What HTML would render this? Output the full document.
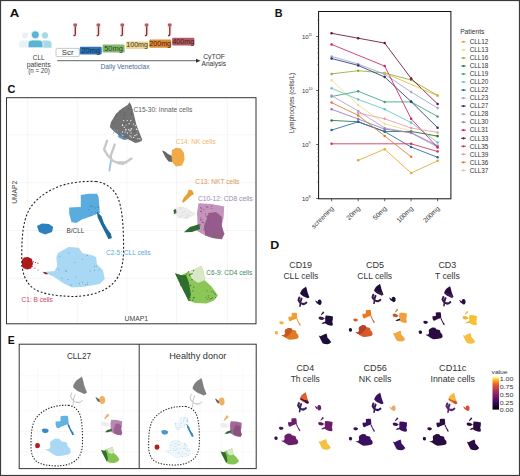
<!DOCTYPE html><html><head><meta charset="utf-8"><style>
html,body{margin:0;padding:0;background:#fff;width:520px;height:476px;overflow:hidden}
svg{display:block}
text{font-family:"Liberation Sans",sans-serif}
</style></head><body>
<svg width="520" height="476" viewBox="0 0 520 476">
<rect x="0" y="0" width="520" height="476" fill="#fff"/>

<defs>
<path id="innate" d="M129.5,102.1 L131.6,105.9 L133.7,113.5 L136.3,124.4 L139.7,133.3 L142.4,140.0 L139.0,142.2 L135.3,143.1 L128.6,139.5 L120.2,136.2 L113.5,131.1 L109.8,126.9 L111.0,121.9 L116.0,113.8 L121.9,108.4 L127.9,104.7Z"/>
<path id="nkgray" d="M162.0,150.5 L165.0,151.5 L168.0,154.0 L172.0,156.0 L172.5,162.0 L168.5,161.5 L165.5,157.5 L163.5,153.5Z"/>
<path id="nk" d="M172.0,150.0 L176.0,147.8 L181.0,148.5 L184.0,153.0 L184.5,160.0 L182.0,165.5 L176.0,166.5 L172.0,162.0 L171.5,155.0Z"/>
<path id="cd8" d="M198.5,203.3 L211.6,203.9 L224.2,206.4 L223.6,217.8 L221.7,225.4 L224.2,234.2 L221.7,239.2 L212.9,238.0 L205.3,235.4 L196.5,230.4 L197.5,222.8 L197.0,212.7Z"/>
<path id="cd8dark" d="M209.0,213.0 L216.0,212.0 L222.0,217.0 L221.7,225.4 L224.2,234.2 L221.7,239.2 L212.9,238.0 L205.3,235.4 L204.0,226.0Z"/>
<path id="cd8green" d="M183.9,232.3 L190.0,227.0 L199.6,224.1 L200.0,229.0 L192.0,232.0Z"/>
<path id="nktwhite" d="M174.5,208.5 L180.0,206.5 L187.7,208.5 L196.0,214.0 L187.7,219.0 L179.0,218.0 L174.5,214.0Z"/>
<path id="nkt" d="M182.0,201.4 L183.9,197.6 L187.0,194.1 L188.9,189.4 L192.1,190.3 L194.0,194.1 L190.8,196.1 L186.6,199.9 L183.2,202.7Z"/>
<path id="cd4" d="M175.0,273.3 L181.3,275.2 L188.9,271.4 L195.2,268.9 L201.5,265.7 L204.0,272.7 L204.7,280.2 L211.6,286.5 L217.9,295.4 L214.1,300.4 L206.6,303.5 L195.2,302.9 L188.3,300.4 L184.5,292.8 L178.8,281.5Z"/>
<path id="cd4dark" d="M175.0,273.3 L181.3,275.2 L186.0,275.0 L189.0,283.0 L191.0,295.0 L188.3,300.4 L184.5,292.8 L178.8,281.5Z"/>
<path id="cd4pale" d="M188.9,271.4 L195.2,268.9 L201.5,265.7 L204.0,272.7 L204.7,280.2 L198.0,283.0 L192.0,279.0Z"/>
<path id="cllup" d="M80.8,194.9 L88.9,193.8 L96.9,193.8 L98.5,196.5 L99.2,204.6 L99.9,212.7 L91.2,216.2 L81.9,219.6 L76.2,223.1 L71.5,221.9 L69.2,213.8 L69.2,207.4 L80.8,206.9 L80.8,200.0Z"/>
<path id="clltail" d="M96.9,211.5 L101.5,216.2 L103.9,223.1 L107.3,228.9 L110.8,233.5 L111.9,238.1 L108.5,239.2 L106.2,234.6 L101.5,225.4 L97.6,217.3Z"/>
<path id="cllsmall" d="M37.0,226.0 L42.0,223.5 L49.0,224.0 L53.2,227.0 L52.0,232.0 L45.0,234.4 L39.0,232.0Z"/>
<path id="cllbig" d="M58.1,253.0 L68.4,246.9 L78.8,247.8 L82.3,253.0 L92.7,255.6 L96.1,257.3 L97.0,264.2 L103.0,270.3 L104.8,278.9 L99.6,284.1 L84.0,286.7 L71.9,287.6 L63.3,283.3 L54.6,277.2 L47.7,273.7 L44.2,272.0 L54.6,271.1 L57.2,266.0 L56.3,257.3Z"/>
<path id="bcell" d="M22.0,260.0 L24.0,257.5 L28.0,257.0 L32.0,259.0 L33.0,264.0 L31.0,268.5 L27.0,269.5 L23.0,268.0 L21.8,264.0Z"/>
<path id="cllbigleft" d="M58.1,253.0 L68.4,246.9 L78.8,247.8 L82.3,253.0 L80.0,262.0 L70.0,272.0 L60.0,280.0 L54.6,277.2 L47.7,273.7 L44.2,272.0 L54.6,271.1 L57.2,266.0 L56.3,257.3Z"/>
<path id="innatelow" d="M112.0,128.0 L122.0,133.0 L135.0,142.9 L142.1,140.4 L138.0,132.0 L126.0,130.0 L114.0,124.0Z"/>
<path id="ring" d="M107,140.8 L104.1,149.4 L107.5,155.2 L110.9,158.6 L113.3,161 L118,163 L122.9,163.8 L127.7,161 L131.5,158.6 M114.7,144.6 L110.9,155.2 L110.9,158.6 M117,162.5 L126,162.5"/>
<path id="ringblue" d="M110.9,161 L109.4,170.6"/>
<path id="dash" d="M95.8,181.5 C106,182.5 114,189 118,198 C122,208 123.3,224 123.5,240 C124,258 123,270 116,280 C106,293 88,296 73.8,296.5 C55,296 42,294 33.5,288.5 C25,282 21.5,272 21.8,258 C21.6,240 22.5,222 29,210 C35,199 47,191 60,186 C72,182 84,181 95.8,181.5Z"/>
</defs>
<text x="9.75" y="16.7" font-size="11.8" fill="#111" textLength="9.50" lengthAdjust="spacingAndGlyphs" font-weight="bold">A</text>
<circle cx="25.1" cy="35.4" r="3" fill="#e6f2f4"/><path d="M19,47.5 L19,44 Q19,40.5 22.5,40.5 L28,40.5 Q31,40.5 31,44 L31,47.5Z" fill="#e6f2f4"/>
<circle cx="45" cy="35.4" r="3.1" fill="#a8d8e2"/><path d="M40,47.7 L40,44 Q40,40.5 43.5,40.5 L48,40.5 Q51.6,40.5 51.6,44 L51.6,47.7Z" fill="#a8d8e2"/>
<circle cx="35.3" cy="34.8" r="4" fill="#5ab4d4" stroke="#fff" stroke-width="0.7"/><path d="M28,47.8 L28,44 Q28,40 32.5,40 L38.5,40 Q43,40 43,44 L43,47.8Z" fill="#5ab4d4" stroke="#fff" stroke-width="0.8"/>
<text x="32.85" y="60" font-size="6.3" fill="#3a3a3a" textLength="11.70" lengthAdjust="spacingAndGlyphs">CLL</text>
<text x="26.65" y="66.7" font-size="6.3" fill="#3a3a3a" textLength="24.00" lengthAdjust="spacingAndGlyphs">patients</text>
<text x="28.15" y="72.8" font-size="6.3" fill="#3a3a3a" textLength="21.70" lengthAdjust="spacingAndGlyphs">(n = 20)</text>
<rect x="56" y="48.4" width="23.3" height="8.2" rx="1.2" fill="#ffffff" stroke="#9aa" stroke-width="0.6"/>
<text x="61.80" y="54.8" font-size="6.6" fill="#333" textLength="11.70" lengthAdjust="spacingAndGlyphs">Scr</text>
<rect x="79.8" y="46.7" width="21.9" height="7.8" rx="1.2" fill="#2e72b8"/>
<text x="81.40" y="52.7" font-size="6.6" fill="#1c2f4a" textLength="18.70" lengthAdjust="spacingAndGlyphs">20mg</text>
<rect x="102.5" y="44.6" width="22.1" height="8" rx="1.2" fill="#86b86e"/>
<text x="104.20" y="50.8" font-size="6.6" fill="#234020" textLength="18.70" lengthAdjust="spacingAndGlyphs">50mg</text>
<rect x="125.9" y="41.5" width="22.4" height="7.6" rx="1.2" fill="#eed590"/>
<text x="126.25" y="47.3" font-size="6.6" fill="#3a3520" textLength="21.70" lengthAdjust="spacingAndGlyphs">100mg</text>
<rect x="149.2" y="39.6" width="22" height="8.1" rx="1.2" fill="#dd8a38"/>
<text x="149.35" y="45.9" font-size="6.6" fill="#3a2008" textLength="21.70" lengthAdjust="spacingAndGlyphs">200mg</text>
<rect x="172.1" y="37.7" width="22.3" height="7.7" rx="1.2" fill="#b05a62"/>
<text x="172.40" y="43.6" font-size="6.6" fill="#4a1a20" textLength="21.70" lengthAdjust="spacingAndGlyphs">400mg</text>
<rect x="72.89999999999999" y="23" width="4.8" height="13.5" rx="1" fill="#fbeeee"/>
<rect x="73.39999999999999" y="23.6" width="3.6" height="3" rx="0.8" fill="#b85a5a"/>
<path d="M75.3,26.4 L75.3,34.1 Q75.3,35.9 73.5,35.5" fill="none" stroke="#7a3232" stroke-width="1.35"/>
<rect x="96.1" y="23" width="4.8" height="13.5" rx="1" fill="#fbeeee"/>
<rect x="96.6" y="23.6" width="3.6" height="3" rx="0.8" fill="#b85a5a"/>
<path d="M98.5,26.4 L98.5,34.1 Q98.5,35.9 96.7,35.5" fill="none" stroke="#7a3232" stroke-width="1.35"/>
<rect x="120.0" y="23" width="4.8" height="13.5" rx="1" fill="#fbeeee"/>
<rect x="120.5" y="23.6" width="3.6" height="3" rx="0.8" fill="#b85a5a"/>
<path d="M122.4,26.4 L122.4,34.1 Q122.4,35.9 120.60000000000001,35.5" fill="none" stroke="#7a3232" stroke-width="1.35"/>
<rect x="144.29999999999998" y="23" width="4.8" height="13.5" rx="1" fill="#fbeeee"/>
<rect x="144.79999999999998" y="23.6" width="3.6" height="3" rx="0.8" fill="#b85a5a"/>
<path d="M146.7,26.4 L146.7,34.1 Q146.7,35.9 144.89999999999998,35.5" fill="none" stroke="#7a3232" stroke-width="1.35"/>
<rect x="167.4" y="23" width="4.8" height="13.5" rx="1" fill="#fbeeee"/>
<rect x="167.9" y="23.6" width="3.6" height="3" rx="0.8" fill="#b85a5a"/>
<path d="M169.8,26.4 L169.8,34.1 Q169.8,35.9 168.0,35.5" fill="none" stroke="#7a3232" stroke-width="1.35"/>
<line x1="57.2" y1="60.7" x2="198" y2="60.7" stroke="#555" stroke-width="0.9"/>
<path d="M196,58.7 L200.5,60.7 L196,62.7Z" fill="#333"/>
<text x="100.45" y="69.1" font-size="6.8" fill="#4a6a9a" textLength="49.10" lengthAdjust="spacingAndGlyphs">Daily Venetoclax</text>
<text x="203.15" y="58.8" font-size="6.8" fill="#333" textLength="21.80" lengthAdjust="spacingAndGlyphs">CyTOF</text>
<text x="201.55" y="65.9" font-size="6.8" fill="#333" textLength="24.40" lengthAdjust="spacingAndGlyphs">Analysis</text>
<text x="274.65" y="16.9" font-size="11.8" fill="#111" textLength="7.80" lengthAdjust="spacingAndGlyphs" font-weight="bold">B</text>
<rect x="318.6" y="11.5" width="132.29999999999995" height="187.3" fill="none" stroke="#111" stroke-width="1"/>
<line x1="316.1" y1="36.5" x2="318.6" y2="36.5" stroke="#222" stroke-width="0.7"/>
<text x="308.6" y="38.6" font-size="6" fill="#333" text-anchor="end">10</text><text x="308.40000000000003" y="35.9" font-size="3.6" fill="#333">11</text>
<line x1="316.1" y1="90.5" x2="318.6" y2="90.5" stroke="#222" stroke-width="0.7"/>
<text x="308.6" y="92.6" font-size="6" fill="#333" text-anchor="end">10</text><text x="308.40000000000003" y="89.9" font-size="3.6" fill="#333">10</text>
<line x1="316.1" y1="144.5" x2="318.6" y2="144.5" stroke="#222" stroke-width="0.7"/>
<text x="308.6" y="146.6" font-size="6" fill="#333" text-anchor="end">10</text><text x="308.40000000000003" y="143.9" font-size="3.6" fill="#333">9</text>
<line x1="316.1" y1="198.5" x2="318.6" y2="198.5" stroke="#222" stroke-width="0.7"/>
<text x="308.6" y="200.6" font-size="6" fill="#333" text-anchor="end">10</text><text x="308.40000000000003" y="197.9" font-size="3.6" fill="#333">8</text>
<line x1="317.1" y1="182.2" x2="318.6" y2="182.2" stroke="#444" stroke-width="0.4"/>
<line x1="317.1" y1="172.7" x2="318.6" y2="172.7" stroke="#444" stroke-width="0.4"/>
<line x1="317.1" y1="166.0" x2="318.6" y2="166.0" stroke="#444" stroke-width="0.4"/>
<line x1="317.1" y1="160.8" x2="318.6" y2="160.8" stroke="#444" stroke-width="0.4"/>
<line x1="317.1" y1="156.5" x2="318.6" y2="156.5" stroke="#444" stroke-width="0.4"/>
<line x1="317.1" y1="152.9" x2="318.6" y2="152.9" stroke="#444" stroke-width="0.4"/>
<line x1="317.1" y1="149.7" x2="318.6" y2="149.7" stroke="#444" stroke-width="0.4"/>
<line x1="317.1" y1="147.0" x2="318.6" y2="147.0" stroke="#444" stroke-width="0.4"/>
<line x1="317.1" y1="128.2" x2="318.6" y2="128.2" stroke="#444" stroke-width="0.4"/>
<line x1="317.1" y1="118.7" x2="318.6" y2="118.7" stroke="#444" stroke-width="0.4"/>
<line x1="317.1" y1="112.0" x2="318.6" y2="112.0" stroke="#444" stroke-width="0.4"/>
<line x1="317.1" y1="106.8" x2="318.6" y2="106.8" stroke="#444" stroke-width="0.4"/>
<line x1="317.1" y1="102.5" x2="318.6" y2="102.5" stroke="#444" stroke-width="0.4"/>
<line x1="317.1" y1="98.9" x2="318.6" y2="98.9" stroke="#444" stroke-width="0.4"/>
<line x1="317.1" y1="95.7" x2="318.6" y2="95.7" stroke="#444" stroke-width="0.4"/>
<line x1="317.1" y1="93.0" x2="318.6" y2="93.0" stroke="#444" stroke-width="0.4"/>
<line x1="317.1" y1="74.2" x2="318.6" y2="74.2" stroke="#444" stroke-width="0.4"/>
<line x1="317.1" y1="64.7" x2="318.6" y2="64.7" stroke="#444" stroke-width="0.4"/>
<line x1="317.1" y1="58.0" x2="318.6" y2="58.0" stroke="#444" stroke-width="0.4"/>
<line x1="317.1" y1="52.8" x2="318.6" y2="52.8" stroke="#444" stroke-width="0.4"/>
<line x1="317.1" y1="48.5" x2="318.6" y2="48.5" stroke="#444" stroke-width="0.4"/>
<line x1="317.1" y1="44.9" x2="318.6" y2="44.9" stroke="#444" stroke-width="0.4"/>
<line x1="317.1" y1="41.7" x2="318.6" y2="41.7" stroke="#444" stroke-width="0.4"/>
<line x1="317.1" y1="39.0" x2="318.6" y2="39.0" stroke="#444" stroke-width="0.4"/>
<line x1="317.1" y1="20.2" x2="318.6" y2="20.2" stroke="#444" stroke-width="0.4"/>
<text transform="translate(294,103) rotate(-90)" font-size="6.6" fill="#333" text-anchor="middle" textLength="60" lengthAdjust="spacingAndGlyphs">Lymphocytes (cells/L)</text>
<line x1="331.6" y1="198.8" x2="331.6" y2="201.3" stroke="#222" stroke-width="0.7"/>
<text transform="translate(334.1,208.8) rotate(-45)" font-size="6.6" fill="#333" text-anchor="end">screening</text>
<line x1="358.2" y1="198.8" x2="358.2" y2="201.3" stroke="#222" stroke-width="0.7"/>
<text transform="translate(360.7,208.8) rotate(-45)" font-size="6.6" fill="#333" text-anchor="end">20mg</text>
<line x1="384.7" y1="198.8" x2="384.7" y2="201.3" stroke="#222" stroke-width="0.7"/>
<text transform="translate(387.2,208.8) rotate(-45)" font-size="6.6" fill="#333" text-anchor="end">50mg</text>
<line x1="411.1" y1="198.8" x2="411.1" y2="201.3" stroke="#222" stroke-width="0.7"/>
<text transform="translate(413.6,208.8) rotate(-45)" font-size="6.6" fill="#333" text-anchor="end">100mg</text>
<line x1="437.6" y1="198.8" x2="437.6" y2="201.3" stroke="#222" stroke-width="0.7"/>
<text transform="translate(440.1,208.8) rotate(-45)" font-size="6.6" fill="#333" text-anchor="end">200mg</text>
<path d="M358.2,160.3 L384.7,149.2 L411.1,173 L437.6,160.8" fill="none" stroke="#e3a82a" stroke-width="0.85"/>
<circle cx="358.2" cy="160.3" r="1.25" fill="#e3a82a"/>
<circle cx="384.7" cy="149.2" r="1.25" fill="#e3a82a"/>
<circle cx="411.1" cy="173" r="1.25" fill="#e3a82a"/>
<circle cx="437.6" cy="160.8" r="1.25" fill="#e3a82a"/>
<path d="M331.6,80.3 L358.2,105 L384.7,124 L411.1,131 L437.6,137" fill="none" stroke="#f2dc8c" stroke-width="0.85"/>
<circle cx="331.6" cy="80.3" r="1.25" fill="#f2dc8c"/>
<circle cx="358.2" cy="105" r="1.25" fill="#f2dc8c"/>
<circle cx="384.7" cy="124" r="1.25" fill="#f2dc8c"/>
<circle cx="411.1" cy="131" r="1.25" fill="#f2dc8c"/>
<circle cx="437.6" cy="137" r="1.25" fill="#f2dc8c"/>
<path d="M331.6,73.9 L358.2,70.7 L384.7,73 L411.1,80 L437.6,95.4" fill="none" stroke="#8fac3a" stroke-width="0.85"/>
<circle cx="331.6" cy="73.9" r="1.25" fill="#8fac3a"/>
<circle cx="358.2" cy="70.7" r="1.25" fill="#8fac3a"/>
<circle cx="384.7" cy="73" r="1.25" fill="#8fac3a"/>
<circle cx="411.1" cy="80" r="1.25" fill="#8fac3a"/>
<circle cx="437.6" cy="95.4" r="1.25" fill="#8fac3a"/>
<path d="M331.6,120.4 L358.2,121.8 L384.7,131.6 L411.1,131.5 L437.6,136" fill="none" stroke="#1f7a3e" stroke-width="0.85"/>
<circle cx="331.6" cy="120.4" r="1.25" fill="#1f7a3e"/>
<circle cx="358.2" cy="121.8" r="1.25" fill="#1f7a3e"/>
<circle cx="384.7" cy="131.6" r="1.25" fill="#1f7a3e"/>
<circle cx="411.1" cy="131.5" r="1.25" fill="#1f7a3e"/>
<circle cx="437.6" cy="136" r="1.25" fill="#1f7a3e"/>
<path d="M331.6,96.5 L358.2,91.3 L384.7,101.9 L411.1,101.9 L437.6,116.5" fill="none" stroke="#3aa37a" stroke-width="0.85"/>
<circle cx="331.6" cy="96.5" r="1.25" fill="#3aa37a"/>
<circle cx="358.2" cy="91.3" r="1.25" fill="#3aa37a"/>
<circle cx="384.7" cy="101.9" r="1.25" fill="#3aa37a"/>
<circle cx="411.1" cy="101.9" r="1.25" fill="#3aa37a"/>
<circle cx="437.6" cy="116.5" r="1.25" fill="#3aa37a"/>
<path d="M331.6,88.3 L358.2,99.4 L384.7,109.3 L411.1,122.6 L437.6,142.5" fill="none" stroke="#67c2c2" stroke-width="0.85"/>
<circle cx="331.6" cy="88.3" r="1.25" fill="#67c2c2"/>
<circle cx="358.2" cy="99.4" r="1.25" fill="#67c2c2"/>
<circle cx="384.7" cy="109.3" r="1.25" fill="#67c2c2"/>
<circle cx="411.1" cy="122.6" r="1.25" fill="#67c2c2"/>
<circle cx="437.6" cy="142.5" r="1.25" fill="#67c2c2"/>
<path d="M331.6,130.1 L358.2,121.8 L384.7,131.6 L411.1,147 L437.6,157.3" fill="none" stroke="#2567a0" stroke-width="0.85"/>
<circle cx="331.6" cy="130.1" r="1.25" fill="#2567a0"/>
<circle cx="358.2" cy="121.8" r="1.25" fill="#2567a0"/>
<circle cx="384.7" cy="131.6" r="1.25" fill="#2567a0"/>
<circle cx="411.1" cy="147" r="1.25" fill="#2567a0"/>
<circle cx="437.6" cy="157.3" r="1.25" fill="#2567a0"/>
<path d="M331.6,56.4 L358.2,64 L384.7,74.3 L411.1,92 L437.6,108" fill="none" stroke="#9aa2d4" stroke-width="0.85"/>
<circle cx="331.6" cy="56.4" r="1.25" fill="#9aa2d4"/>
<circle cx="358.2" cy="64" r="1.25" fill="#9aa2d4"/>
<circle cx="384.7" cy="74.3" r="1.25" fill="#9aa2d4"/>
<circle cx="411.1" cy="92" r="1.25" fill="#9aa2d4"/>
<circle cx="437.6" cy="108" r="1.25" fill="#9aa2d4"/>
<path d="M331.6,58.5 L358.2,65.4 L384.7,77 L411.1,101.6 L437.6,127.7" fill="none" stroke="#2a3470" stroke-width="0.85"/>
<circle cx="331.6" cy="58.5" r="1.25" fill="#2a3470"/>
<circle cx="358.2" cy="65.4" r="1.25" fill="#2a3470"/>
<circle cx="384.7" cy="77" r="1.25" fill="#2a3470"/>
<circle cx="411.1" cy="101.6" r="1.25" fill="#2a3470"/>
<circle cx="437.6" cy="127.7" r="1.25" fill="#2a3470"/>
<path d="M331.6,95.6 L358.2,111 L384.7,128 L411.1,133 L437.6,147" fill="none" stroke="#a8a0c4" stroke-width="0.85"/>
<circle cx="331.6" cy="95.6" r="1.25" fill="#a8a0c4"/>
<circle cx="358.2" cy="111" r="1.25" fill="#a8a0c4"/>
<circle cx="384.7" cy="128" r="1.25" fill="#a8a0c4"/>
<circle cx="411.1" cy="133" r="1.25" fill="#a8a0c4"/>
<circle cx="437.6" cy="147" r="1.25" fill="#a8a0c4"/>
<path d="M331.6,109.3 L358.2,119 L384.7,129.2 L411.1,132.6 L437.6,145.8" fill="none" stroke="#9a72c0" stroke-width="0.85"/>
<circle cx="331.6" cy="109.3" r="1.25" fill="#9a72c0"/>
<circle cx="358.2" cy="119" r="1.25" fill="#9a72c0"/>
<circle cx="384.7" cy="129.2" r="1.25" fill="#9a72c0"/>
<circle cx="411.1" cy="132.6" r="1.25" fill="#9a72c0"/>
<circle cx="437.6" cy="145.8" r="1.25" fill="#9a72c0"/>
<path d="M331.6,44.4 L384.7,66.1 L411.1,118.7 L437.6,147.6" fill="none" stroke="#c8246a" stroke-width="0.85"/>
<circle cx="331.6" cy="44.4" r="1.25" fill="#c8246a"/>
<circle cx="384.7" cy="66.1" r="1.25" fill="#c8246a"/>
<circle cx="411.1" cy="118.7" r="1.25" fill="#c8246a"/>
<circle cx="437.6" cy="147.6" r="1.25" fill="#c8246a"/>
<path d="M331.6,33.3 L358.2,38.2 L384.7,43.1 L411.1,78.4 L437.6,104" fill="none" stroke="#6a0f35" stroke-width="0.85"/>
<circle cx="331.6" cy="33.3" r="1.25" fill="#6a0f35"/>
<circle cx="358.2" cy="38.2" r="1.25" fill="#6a0f35"/>
<circle cx="384.7" cy="43.1" r="1.25" fill="#6a0f35"/>
<circle cx="411.1" cy="78.4" r="1.25" fill="#6a0f35"/>
<circle cx="437.6" cy="104" r="1.25" fill="#6a0f35"/>
<path d="M331.6,143.8 L411.1,143.8 L437.6,151.5" fill="none" stroke="#cc3050" stroke-width="0.85"/>
<circle cx="331.6" cy="143.8" r="1.25" fill="#cc3050"/>
<circle cx="411.1" cy="143.8" r="1.25" fill="#cc3050"/>
<circle cx="437.6" cy="151.5" r="1.25" fill="#cc3050"/>
<path d="M358.2,113 L384.7,118.8 L411.1,128 L437.6,132.4" fill="none" stroke="#e89aaa" stroke-width="0.85"/>
<circle cx="358.2" cy="113" r="1.25" fill="#e89aaa"/>
<circle cx="384.7" cy="118.8" r="1.25" fill="#e89aaa"/>
<circle cx="411.1" cy="128" r="1.25" fill="#e89aaa"/>
<circle cx="437.6" cy="132.4" r="1.25" fill="#e89aaa"/>
<path d="M331.6,102.6 L358.2,115.4 L384.7,136 L411.1,156.8" fill="none" stroke="#dc7a30" stroke-width="0.85"/>
<circle cx="331.6" cy="102.6" r="1.25" fill="#dc7a30"/>
<circle cx="358.2" cy="115.4" r="1.25" fill="#dc7a30"/>
<circle cx="384.7" cy="136" r="1.25" fill="#dc7a30"/>
<circle cx="411.1" cy="156.8" r="1.25" fill="#dc7a30"/>
<path d="M384.7,73 L437.6,95.8" fill="none" stroke="#e6b838" stroke-width="0.85"/>
<circle cx="384.7" cy="73" r="1.25" fill="#e6b838"/>
<circle cx="437.6" cy="95.8" r="1.25" fill="#e6b838"/>
<text x="460.15" y="34" font-size="6.4" fill="#333" textLength="24.20" lengthAdjust="spacingAndGlyphs">Patients</text>
<line x1="461" y1="41.9" x2="466" y2="41.9" stroke="#e3a82a" stroke-width="0.8"/><circle cx="463.5" cy="41.9" r="1.1" fill="#e3a82a"/>
<text x="469.65" y="44.1" font-size="6.3" fill="#333" textLength="18.70" lengthAdjust="spacingAndGlyphs">CLL12</text>
<line x1="461" y1="49.9" x2="466" y2="49.9" stroke="#f2dc8c" stroke-width="0.8"/><circle cx="463.5" cy="49.9" r="1.1" fill="#f2dc8c"/>
<text x="469.65" y="52.1" font-size="6.3" fill="#333" textLength="18.70" lengthAdjust="spacingAndGlyphs">CLL13</text>
<line x1="461" y1="58.0" x2="466" y2="58.0" stroke="#8fac3a" stroke-width="0.8"/><circle cx="463.5" cy="58.0" r="1.1" fill="#8fac3a"/>
<text x="469.65" y="60.2" font-size="6.3" fill="#333" textLength="18.70" lengthAdjust="spacingAndGlyphs">CLL16</text>
<line x1="461" y1="66.0" x2="466" y2="66.0" stroke="#1f7a3e" stroke-width="0.8"/><circle cx="463.5" cy="66.0" r="1.1" fill="#1f7a3e"/>
<text x="469.65" y="68.2" font-size="6.3" fill="#333" textLength="18.70" lengthAdjust="spacingAndGlyphs">CLL18</text>
<line x1="461" y1="74.0" x2="466" y2="74.0" stroke="#3aa37a" stroke-width="0.8"/><circle cx="463.5" cy="74.0" r="1.1" fill="#3aa37a"/>
<text x="469.65" y="76.2" font-size="6.3" fill="#333" textLength="18.70" lengthAdjust="spacingAndGlyphs">CLL19</text>
<line x1="461" y1="82.0" x2="466" y2="82.0" stroke="#67c2c2" stroke-width="0.8"/><circle cx="463.5" cy="82.0" r="1.1" fill="#67c2c2"/>
<text x="469.65" y="84.2" font-size="6.3" fill="#333" textLength="18.70" lengthAdjust="spacingAndGlyphs">CLL20</text>
<line x1="461" y1="90.1" x2="466" y2="90.1" stroke="#2567a0" stroke-width="0.8"/><circle cx="463.5" cy="90.1" r="1.1" fill="#2567a0"/>
<text x="469.65" y="92.3" font-size="6.3" fill="#333" textLength="18.70" lengthAdjust="spacingAndGlyphs">CLL22</text>
<line x1="461" y1="98.1" x2="466" y2="98.1" stroke="#9aa2d4" stroke-width="0.8"/><circle cx="463.5" cy="98.1" r="1.1" fill="#9aa2d4"/>
<text x="469.65" y="100.3" font-size="6.3" fill="#333" textLength="18.70" lengthAdjust="spacingAndGlyphs">CLL23</text>
<line x1="461" y1="106.1" x2="466" y2="106.1" stroke="#2a3470" stroke-width="0.8"/><circle cx="463.5" cy="106.1" r="1.1" fill="#2a3470"/>
<text x="469.65" y="108.3" font-size="6.3" fill="#333" textLength="18.70" lengthAdjust="spacingAndGlyphs">CLL27</text>
<line x1="461" y1="114.2" x2="466" y2="114.2" stroke="#b4a0c8" stroke-width="0.8"/><circle cx="463.5" cy="114.2" r="1.1" fill="#b4a0c8"/>
<text x="469.65" y="116.4" font-size="6.3" fill="#333" textLength="18.70" lengthAdjust="spacingAndGlyphs">CLL28</text>
<line x1="461" y1="122.2" x2="466" y2="122.2" stroke="#a080b0" stroke-width="0.8"/><circle cx="463.5" cy="122.2" r="1.1" fill="#a080b0"/>
<text x="469.65" y="124.4" font-size="6.3" fill="#333" textLength="18.70" lengthAdjust="spacingAndGlyphs">CLL30</text>
<line x1="461" y1="130.2" x2="466" y2="130.2" stroke="#c8246a" stroke-width="0.8"/><circle cx="463.5" cy="130.2" r="1.1" fill="#c8246a"/>
<text x="469.65" y="132.4" font-size="6.3" fill="#333" textLength="18.70" lengthAdjust="spacingAndGlyphs">CLL31</text>
<line x1="461" y1="138.3" x2="466" y2="138.3" stroke="#600830" stroke-width="0.8"/><circle cx="463.5" cy="138.3" r="1.1" fill="#600830"/>
<text x="469.65" y="140.5" font-size="6.3" fill="#333" textLength="18.70" lengthAdjust="spacingAndGlyphs">CLL33</text>
<line x1="461" y1="146.3" x2="466" y2="146.3" stroke="#c03050" stroke-width="0.8"/><circle cx="463.5" cy="146.3" r="1.1" fill="#c03050"/>
<text x="469.65" y="148.5" font-size="6.3" fill="#333" textLength="18.70" lengthAdjust="spacingAndGlyphs">CLL35</text>
<line x1="461" y1="154.3" x2="466" y2="154.3" stroke="#e090a0" stroke-width="0.8"/><circle cx="463.5" cy="154.3" r="1.1" fill="#e090a0"/>
<text x="469.65" y="156.5" font-size="6.3" fill="#333" textLength="18.70" lengthAdjust="spacingAndGlyphs">CLL39</text>
<line x1="461" y1="162.3" x2="466" y2="162.3" stroke="#d08030" stroke-width="0.8"/><circle cx="463.5" cy="162.3" r="1.1" fill="#d08030"/>
<text x="469.65" y="164.5" font-size="6.3" fill="#333" textLength="18.70" lengthAdjust="spacingAndGlyphs">CLL36</text>
<line x1="461" y1="170.4" x2="466" y2="170.4" stroke="#e8c0a0" stroke-width="0.8"/><circle cx="463.5" cy="170.4" r="1.1" fill="#e8c0a0"/>
<text x="469.65" y="172.6" font-size="6.3" fill="#333" textLength="18.70" lengthAdjust="spacingAndGlyphs">CLL37</text>
<text x="7.45" y="92.5" font-size="11.8" fill="#111" textLength="7.90" lengthAdjust="spacingAndGlyphs" font-weight="bold">C</text>
<line x1="27.7" y1="97.7" x2="27.7" y2="323.8" stroke="#efefef" stroke-width="0.6"/>
<line x1="77.3" y1="97.7" x2="77.3" y2="323.8" stroke="#efefef" stroke-width="0.6"/>
<line x1="126.9" y1="97.7" x2="126.9" y2="323.8" stroke="#efefef" stroke-width="0.6"/>
<line x1="176.5" y1="97.7" x2="176.5" y2="323.8" stroke="#efefef" stroke-width="0.6"/>
<line x1="227.3" y1="97.7" x2="227.3" y2="323.8" stroke="#efefef" stroke-width="0.6"/>
<line x1="6.5" y1="134.9" x2="256" y2="134.9" stroke="#efefef" stroke-width="0.6"/>
<line x1="6.5" y1="182.7" x2="256" y2="182.7" stroke="#efefef" stroke-width="0.6"/>
<line x1="6.5" y1="230.5" x2="256" y2="230.5" stroke="#efefef" stroke-width="0.6"/>
<line x1="6.5" y1="278.3" x2="256" y2="278.3" stroke="#efefef" stroke-width="0.6"/>
<g transform="">
<use href="#ring" fill="none" stroke="#c8c8c8" stroke-width="2.4" stroke-linejoin="round" stroke-linecap="round"/>
<use href="#ringblue" fill="none" stroke="#a8c4e0" stroke-width="1.92" stroke-linecap="round"/>
<use href="#innate" fill="#727272"/>
<use href="#nkgray" fill="#666"/>
<use href="#nk" fill="#f2aa48"/>
<use href="#cd8" fill="#c494bc"/>
<use href="#cd8dark" fill="#975a8c"/>
<use href="#cd8green" fill="#2e6a34"/>
<use href="#nktwhite" fill="#ececec"/>
<use href="#nkt" fill="#e8a030"/>
<use href="#cd4" fill="#8cc656"/>
<use href="#cd4dark" fill="#2e6e2e"/>
<use href="#cd4pale" fill="#d8e8c6"/>
<use href="#cllup" fill="#5aacdf"/>
<use href="#clltail" fill="#1e6a9a"/>
<use href="#cllsmall" fill="#2a80c0"/>
<use href="#cllbig" fill="#a8d8f4"/>
<use href="#bcell" fill="#b01a1a"/>
</g>
<path d="M118,134 L124,135.5 L127.5,139.5 L124,140 L119,137.5 Z" fill="#4a7a98" opacity="0.85"/>
<circle cx="118.3" cy="136.2" r="0.6" fill="#6a9ab8"/><circle cx="114.2" cy="129.3" r="0.6" fill="#6a9ab8"/><circle cx="120.6" cy="133.4" r="0.6" fill="#6a9ab8"/><circle cx="115.2" cy="132.0" r="0.6" fill="#6a9ab8"/><circle cx="115.4" cy="130.6" r="0.6" fill="#6a9ab8"/><circle cx="121.4" cy="134.6" r="0.6" fill="#6a9ab8"/><circle cx="117.7" cy="130.4" r="0.6" fill="#6a9ab8"/><circle cx="117.3" cy="132.8" r="0.6" fill="#6a9ab8"/><circle cx="122.3" cy="138.0" r="0.6" fill="#6a9ab8"/><circle cx="116.9" cy="130.1" r="0.6" fill="#6a9ab8"/><circle cx="122.0" cy="134.5" r="0.6" fill="#6a9ab8"/><circle cx="121.6" cy="136.3" r="0.6" fill="#6a9ab8"/><circle cx="113.5" cy="132.8" r="0.6" fill="#6a9ab8"/><circle cx="119.3" cy="137.6" r="0.6" fill="#6a9ab8"/>
<circle cx="135.7" cy="125.6" r="0.6" fill="#ffffff"/><circle cx="130.9" cy="129.9" r="0.6" fill="#ffffff"/><circle cx="133.7" cy="137.4" r="0.6" fill="#ffffff"/><circle cx="123.7" cy="120.6" r="0.6" fill="#ffffff"/><circle cx="137.0" cy="129.5" r="0.6" fill="#ffffff"/><circle cx="130.0" cy="135.9" r="0.6" fill="#ffffff"/><circle cx="122.5" cy="131.9" r="0.6" fill="#ffffff"/><circle cx="125.9" cy="129.3" r="0.6" fill="#ffffff"/><circle cx="122.5" cy="124.9" r="0.6" fill="#ffffff"/><circle cx="129.9" cy="130.9" r="0.6" fill="#ffffff"/><circle cx="126.2" cy="125.1" r="0.6" fill="#ffffff"/><circle cx="125.9" cy="130.1" r="0.6" fill="#ffffff"/><circle cx="127.2" cy="120.5" r="0.6" fill="#ffffff"/><circle cx="137.1" cy="132.2" r="0.6" fill="#ffffff"/><circle cx="133.6" cy="124.1" r="0.6" fill="#ffffff"/><circle cx="139.9" cy="138.9" r="0.6" fill="#ffffff"/><circle cx="124.2" cy="127.3" r="0.6" fill="#ffffff"/><circle cx="135.0" cy="135.6" r="0.6" fill="#ffffff"/><circle cx="136.9" cy="134.7" r="0.6" fill="#ffffff"/><circle cx="127.5" cy="132.9" r="0.6" fill="#ffffff"/><circle cx="137.9" cy="138.6" r="0.6" fill="#ffffff"/><circle cx="131.1" cy="133.0" r="0.6" fill="#ffffff"/><circle cx="122.6" cy="125.3" r="0.6" fill="#ffffff"/><circle cx="136.4" cy="129.1" r="0.6" fill="#ffffff"/><circle cx="125.1" cy="132.1" r="0.6" fill="#ffffff"/><circle cx="134.7" cy="134.8" r="0.6" fill="#ffffff"/><circle cx="128.7" cy="129.7" r="0.6" fill="#ffffff"/><circle cx="131.2" cy="137.1" r="0.6" fill="#ffffff"/><circle cx="131.4" cy="128.7" r="0.6" fill="#ffffff"/><circle cx="130.8" cy="120.7" r="0.6" fill="#ffffff"/><circle cx="122.8" cy="135.5" r="0.6" fill="#ffffff"/><circle cx="129.1" cy="123.7" r="0.6" fill="#ffffff"/>
<circle cx="141.0" cy="140.9" r="0.5" fill="#505050"/><circle cx="137.0" cy="132.2" r="0.5" fill="#505050"/><circle cx="131.6" cy="114.7" r="0.5" fill="#505050"/><circle cx="129.5" cy="126.9" r="0.5" fill="#505050"/><circle cx="128.7" cy="108.6" r="0.5" fill="#505050"/><circle cx="123.8" cy="118.2" r="0.5" fill="#505050"/><circle cx="124.3" cy="113.1" r="0.5" fill="#505050"/><circle cx="124.9" cy="115.1" r="0.5" fill="#505050"/><circle cx="126.9" cy="125.0" r="0.5" fill="#505050"/><circle cx="131.8" cy="109.5" r="0.5" fill="#505050"/><circle cx="138.9" cy="134.7" r="0.5" fill="#505050"/><circle cx="133.7" cy="139.2" r="0.5" fill="#505050"/><circle cx="134.7" cy="134.4" r="0.5" fill="#505050"/><circle cx="134.4" cy="131.4" r="0.5" fill="#505050"/><circle cx="124.8" cy="123.8" r="0.5" fill="#505050"/><circle cx="126.1" cy="136.2" r="0.5" fill="#505050"/><circle cx="133.4" cy="122.0" r="0.5" fill="#505050"/><circle cx="117.0" cy="115.4" r="0.5" fill="#505050"/><circle cx="126.2" cy="123.3" r="0.5" fill="#505050"/><circle cx="131.0" cy="126.2" r="0.5" fill="#505050"/><circle cx="120.0" cy="110.6" r="0.5" fill="#505050"/><circle cx="130.1" cy="105.1" r="0.5" fill="#505050"/><circle cx="136.5" cy="131.8" r="0.5" fill="#505050"/><circle cx="131.1" cy="113.3" r="0.5" fill="#505050"/><circle cx="113.3" cy="123.5" r="0.5" fill="#505050"/>
<circle cx="58.6" cy="269.1" r="0.45" fill="#3c6a8c"/><circle cx="66.6" cy="271.5" r="0.45" fill="#3c6a8c"/><circle cx="59.9" cy="256.4" r="0.45" fill="#3c6a8c"/><circle cx="94.9" cy="266.3" r="0.45" fill="#3c6a8c"/><circle cx="82.7" cy="282.2" r="0.45" fill="#3c6a8c"/><circle cx="75.9" cy="277.1" r="0.45" fill="#3c6a8c"/><circle cx="90.1" cy="271.0" r="0.45" fill="#3c6a8c"/><circle cx="96.7" cy="266.1" r="0.45" fill="#3c6a8c"/><circle cx="87.8" cy="282.7" r="0.45" fill="#3c6a8c"/><circle cx="87.5" cy="284.4" r="0.45" fill="#3c6a8c"/><circle cx="68.1" cy="279.5" r="0.45" fill="#3c6a8c"/><circle cx="71.1" cy="285.0" r="0.45" fill="#3c6a8c"/><circle cx="82.2" cy="259.2" r="0.45" fill="#3c6a8c"/><circle cx="74.9" cy="262.6" r="0.45" fill="#3c6a8c"/><circle cx="65.5" cy="270.7" r="0.45" fill="#3c6a8c"/><circle cx="79.6" cy="283.7" r="0.45" fill="#3c6a8c"/><circle cx="85.5" cy="284.7" r="0.45" fill="#3c6a8c"/><circle cx="99.0" cy="270.1" r="0.45" fill="#3c6a8c"/><circle cx="87.5" cy="255.5" r="0.45" fill="#3c6a8c"/><circle cx="94.6" cy="270.2" r="0.45" fill="#3c6a8c"/><circle cx="69.1" cy="253.0" r="0.45" fill="#3c6a8c"/><circle cx="62.0" cy="278.2" r="0.45" fill="#3c6a8c"/>
<circle cx="91.1" cy="206.1" r="0.5" fill="#2a78b0"/><circle cx="93.1" cy="206.7" r="0.5" fill="#2a78b0"/><circle cx="88.9" cy="209.4" r="0.5" fill="#2a78b0"/><circle cx="97.9" cy="207.4" r="0.5" fill="#2a78b0"/><circle cx="95.0" cy="208.0" r="0.5" fill="#2a78b0"/><circle cx="90.2" cy="206.2" r="0.5" fill="#2a78b0"/><circle cx="90.8" cy="215.2" r="0.5" fill="#2a78b0"/><circle cx="98.4" cy="207.1" r="0.5" fill="#2a78b0"/><circle cx="92.0" cy="211.9" r="0.5" fill="#2a78b0"/><circle cx="95.9" cy="212.4" r="0.5" fill="#2a78b0"/>
<circle cx="186.8" cy="293.7" r="0.65" fill="#2e6e2e"/><circle cx="190.1" cy="300.2" r="0.65" fill="#2e6e2e"/><circle cx="189.1" cy="299.5" r="0.65" fill="#2e6e2e"/><circle cx="192.9" cy="290.8" r="0.65" fill="#2e6e2e"/><circle cx="192.1" cy="273.6" r="0.65" fill="#2e6e2e"/><circle cx="183.9" cy="277.9" r="0.65" fill="#2e6e2e"/><circle cx="185.3" cy="288.4" r="0.65" fill="#2e6e2e"/><circle cx="189.5" cy="275.1" r="0.65" fill="#2e6e2e"/><circle cx="190.1" cy="274.4" r="0.65" fill="#2e6e2e"/><circle cx="186.7" cy="274.1" r="0.65" fill="#2e6e2e"/><circle cx="179.0" cy="276.9" r="0.65" fill="#2e6e2e"/><circle cx="193.7" cy="297.9" r="0.65" fill="#2e6e2e"/><circle cx="185.2" cy="291.7" r="0.65" fill="#2e6e2e"/><circle cx="192.0" cy="279.6" r="0.65" fill="#2e6e2e"/><circle cx="181.9" cy="275.3" r="0.65" fill="#2e6e2e"/><circle cx="181.4" cy="279.9" r="0.65" fill="#2e6e2e"/><circle cx="190.6" cy="285.4" r="0.65" fill="#2e6e2e"/><circle cx="181.0" cy="285.4" r="0.65" fill="#2e6e2e"/><circle cx="188.4" cy="271.8" r="0.65" fill="#2e6e2e"/><circle cx="193.5" cy="270.7" r="0.65" fill="#2e6e2e"/><circle cx="189.2" cy="297.0" r="0.65" fill="#2e6e2e"/><circle cx="192.7" cy="300.1" r="0.65" fill="#2e6e2e"/><circle cx="181.5" cy="281.4" r="0.65" fill="#2e6e2e"/><circle cx="190.1" cy="297.5" r="0.65" fill="#2e6e2e"/><circle cx="185.4" cy="280.0" r="0.65" fill="#2e6e2e"/><circle cx="181.0" cy="275.7" r="0.65" fill="#2e6e2e"/><circle cx="176.5" cy="274.8" r="0.65" fill="#2e6e2e"/><circle cx="193.7" cy="287.1" r="0.65" fill="#2e6e2e"/><circle cx="182.7" cy="277.6" r="0.65" fill="#2e6e2e"/><circle cx="183.7" cy="283.5" r="0.65" fill="#2e6e2e"/><circle cx="190.9" cy="274.2" r="0.65" fill="#2e6e2e"/><circle cx="188.9" cy="300.4" r="0.65" fill="#2e6e2e"/><circle cx="187.0" cy="295.2" r="0.65" fill="#2e6e2e"/><circle cx="180.6" cy="284.5" r="0.65" fill="#2e6e2e"/><circle cx="194.0" cy="297.3" r="0.65" fill="#2e6e2e"/>
<circle cx="211.8" cy="291.7" r="0.55" fill="#3e7e3e"/><circle cx="206.0" cy="297.3" r="0.55" fill="#3e7e3e"/><circle cx="211.6" cy="298.6" r="0.55" fill="#3e7e3e"/><circle cx="210.5" cy="298.8" r="0.55" fill="#3e7e3e"/><circle cx="209.3" cy="299.2" r="0.55" fill="#3e7e3e"/><circle cx="214.8" cy="293.8" r="0.55" fill="#3e7e3e"/><circle cx="212.5" cy="297.5" r="0.55" fill="#3e7e3e"/><circle cx="208.3" cy="295.8" r="0.55" fill="#3e7e3e"/><circle cx="215.6" cy="297.6" r="0.55" fill="#3e7e3e"/><circle cx="207.1" cy="299.2" r="0.55" fill="#3e7e3e"/><circle cx="215.7" cy="294.2" r="0.55" fill="#3e7e3e"/><circle cx="207.1" cy="290.8" r="0.55" fill="#3e7e3e"/><circle cx="213.6" cy="292.1" r="0.55" fill="#3e7e3e"/><circle cx="208.4" cy="297.2" r="0.55" fill="#3e7e3e"/>
<circle cx="203.9" cy="209.5" r="0.6" fill="#8c5282"/><circle cx="207.8" cy="207.2" r="0.6" fill="#8c5282"/><circle cx="206.4" cy="216.0" r="0.6" fill="#8c5282"/><circle cx="200.7" cy="220.2" r="0.6" fill="#8c5282"/><circle cx="200.4" cy="218.0" r="0.6" fill="#8c5282"/><circle cx="200.8" cy="207.7" r="0.6" fill="#8c5282"/><circle cx="205.1" cy="229.8" r="0.6" fill="#8c5282"/><circle cx="201.5" cy="211.7" r="0.6" fill="#8c5282"/><circle cx="207.5" cy="233.4" r="0.6" fill="#8c5282"/><circle cx="206.9" cy="216.9" r="0.6" fill="#8c5282"/><circle cx="211.7" cy="206.4" r="0.6" fill="#8c5282"/><circle cx="210.3" cy="213.7" r="0.6" fill="#8c5282"/><circle cx="201.7" cy="208.5" r="0.6" fill="#8c5282"/><circle cx="203.7" cy="229.5" r="0.6" fill="#8c5282"/><circle cx="202.2" cy="222.4" r="0.6" fill="#8c5282"/><circle cx="207.7" cy="216.2" r="0.6" fill="#8c5282"/><circle cx="206.6" cy="206.9" r="0.6" fill="#8c5282"/><circle cx="200.7" cy="211.2" r="0.6" fill="#8c5282"/><circle cx="208.2" cy="217.8" r="0.6" fill="#8c5282"/><circle cx="203.8" cy="222.6" r="0.6" fill="#8c5282"/><circle cx="205.4" cy="214.0" r="0.6" fill="#8c5282"/><circle cx="209.5" cy="226.0" r="0.6" fill="#8c5282"/><circle cx="202.9" cy="222.2" r="0.6" fill="#8c5282"/><circle cx="206.3" cy="231.3" r="0.6" fill="#8c5282"/><circle cx="208.8" cy="213.6" r="0.6" fill="#8c5282"/><circle cx="211.8" cy="208.5" r="0.6" fill="#8c5282"/><circle cx="205.0" cy="227.7" r="0.6" fill="#8c5282"/><circle cx="201.8" cy="219.7" r="0.6" fill="#8c5282"/><circle cx="200.5" cy="225.0" r="0.6" fill="#8c5282"/><circle cx="209.2" cy="222.2" r="0.6" fill="#8c5282"/>
<circle cx="215.3" cy="236.9" r="0.6" fill="#4e8a3e"/><circle cx="214.9" cy="233.7" r="0.6" fill="#4e8a3e"/><circle cx="224.0" cy="233.5" r="0.6" fill="#4e8a3e"/><circle cx="220.4" cy="235.2" r="0.6" fill="#4e8a3e"/><circle cx="218.5" cy="235.5" r="0.6" fill="#4e8a3e"/><circle cx="215.9" cy="237.8" r="0.6" fill="#4e8a3e"/><circle cx="214.9" cy="233.6" r="0.6" fill="#4e8a3e"/><circle cx="214.2" cy="233.9" r="0.6" fill="#4e8a3e"/>
<circle cx="184.5" cy="211.2" r="0.45" fill="#b8b8b8"/><circle cx="174.6" cy="212.8" r="0.45" fill="#b8b8b8"/><circle cx="186.4" cy="214.2" r="0.45" fill="#b8b8b8"/><circle cx="175.4" cy="211.2" r="0.45" fill="#b8b8b8"/><circle cx="189.6" cy="212.2" r="0.45" fill="#b8b8b8"/><circle cx="179.6" cy="207.9" r="0.45" fill="#b8b8b8"/><circle cx="185.4" cy="218.0" r="0.45" fill="#b8b8b8"/><circle cx="187.2" cy="216.2" r="0.45" fill="#b8b8b8"/><circle cx="182.7" cy="215.8" r="0.45" fill="#b8b8b8"/><circle cx="176.7" cy="210.1" r="0.45" fill="#b8b8b8"/><circle cx="189.0" cy="215.6" r="0.45" fill="#b8b8b8"/><circle cx="183.6" cy="207.6" r="0.45" fill="#b8b8b8"/><circle cx="180.2" cy="209.1" r="0.45" fill="#b8b8b8"/><circle cx="180.5" cy="216.6" r="0.45" fill="#b8b8b8"/><circle cx="178.8" cy="217.6" r="0.45" fill="#b8b8b8"/><circle cx="182.6" cy="212.6" r="0.45" fill="#b8b8b8"/><circle cx="175.0" cy="211.8" r="0.45" fill="#b8b8b8"/><circle cx="186.9" cy="217.7" r="0.45" fill="#b8b8b8"/>
<path d="M173.5,210 L176,209 L176.5,213 L174,214Z" fill="#2e6a34"/>
<circle cx="23.4" cy="264.6" r="0.6" fill="#b01a1a"/><circle cx="30.5" cy="261.8" r="0.6" fill="#b01a1a"/><circle cx="23.0" cy="263.2" r="0.6" fill="#b01a1a"/><circle cx="28.8" cy="266.9" r="0.6" fill="#b01a1a"/><circle cx="23.4" cy="259.3" r="0.6" fill="#b01a1a"/><circle cx="29.6" cy="264.9" r="0.6" fill="#b01a1a"/><circle cx="32.2" cy="266.5" r="0.6" fill="#b01a1a"/><circle cx="27.0" cy="262.5" r="0.6" fill="#b01a1a"/><circle cx="35.5" cy="262.5" r="0.6" fill="#b01a1a"/><circle cx="24.8" cy="259.8" r="0.6" fill="#b01a1a"/><circle cx="27.6" cy="263.9" r="0.6" fill="#b01a1a"/><circle cx="26.2" cy="263.2" r="0.6" fill="#b01a1a"/><circle cx="28.2" cy="265.6" r="0.6" fill="#b01a1a"/><circle cx="30.8" cy="264.1" r="0.6" fill="#b01a1a"/><circle cx="21.6" cy="265.6" r="0.6" fill="#b01a1a"/><circle cx="22.8" cy="262.9" r="0.6" fill="#b01a1a"/><circle cx="22.6" cy="263.4" r="0.6" fill="#b01a1a"/><circle cx="24.8" cy="264.1" r="0.6" fill="#b01a1a"/><circle cx="37.9" cy="263.2" r="0.6" fill="#b01a1a"/><circle cx="30.0" cy="259.2" r="0.6" fill="#b01a1a"/><circle cx="26.4" cy="265.5" r="0.6" fill="#b01a1a"/><circle cx="27.0" cy="264.6" r="0.6" fill="#b01a1a"/><circle cx="27.6" cy="260.2" r="0.6" fill="#b01a1a"/><circle cx="29.1" cy="260.8" r="0.6" fill="#b01a1a"/><circle cx="33.3" cy="261.8" r="0.6" fill="#b01a1a"/><circle cx="29.5" cy="263.4" r="0.6" fill="#b01a1a"/><circle cx="30.3" cy="261.5" r="0.6" fill="#b01a1a"/><circle cx="30.5" cy="263.0" r="0.6" fill="#b01a1a"/><circle cx="31.3" cy="265.4" r="0.6" fill="#b01a1a"/><circle cx="27.8" cy="260.9" r="0.6" fill="#b01a1a"/>
<path d="M42.5,271.8 L46,272.2 L48.5,274.3 L45,274.2Z" fill="#8a2a3a"/><circle cx="35" cy="268" r="0.6" fill="#b01a1a"/><circle cx="38" cy="270" r="0.5" fill="#b01a1a"/>
<use href="#dash" fill="none" stroke="#222" stroke-width="1.1" stroke-dasharray="2,1.9"/>
<rect x="6.5" y="97.7" width="249.5" height="226.10000000000002" fill="none" stroke="#333" stroke-width="1"/>
<text x="133.45" y="112.1" font-size="6.6" fill="#606060" textLength="58.80" lengthAdjust="spacingAndGlyphs">C15-30: Innate cells</text>
<text x="175.65" y="144.1" font-size="6.6" fill="#f0b868" textLength="39.80" lengthAdjust="spacingAndGlyphs">C14: NK cells</text>
<text x="195.35" y="184.4" font-size="6.6" fill="#d89a50" textLength="44.10" lengthAdjust="spacingAndGlyphs">C13: NKT cells</text>
<text x="197.95" y="200.6" font-size="6.6" fill="#9a88b8" textLength="54.60" lengthAdjust="spacingAndGlyphs">C10-12: CD8 cells</text>
<text x="206.35" y="274.7" font-size="6.6" fill="#3e8a60" textLength="45.90" lengthAdjust="spacingAndGlyphs">C6-9: CD4 cells</text>
<text x="105.95" y="255" font-size="6.6" fill="#5aaad8" textLength="44.60" lengthAdjust="spacingAndGlyphs">C2-5: CLL cells</text>
<text x="21.55" y="301.7" font-size="6.6" fill="#d04060" textLength="31.30" lengthAdjust="spacingAndGlyphs">C1: B cells</text>
<text x="66.55" y="232.9" font-size="6.4" fill="#404040" textLength="17.80" lengthAdjust="spacingAndGlyphs">B/CLL</text>
<text x="124.55" y="320.8" font-size="6.8" fill="#444" textLength="23.60" lengthAdjust="spacingAndGlyphs">UMAP1</text>
<text transform="translate(17.1,192.3) rotate(-90)" font-size="6.8" fill="#444" text-anchor="middle" textLength="23" lengthAdjust="spacingAndGlyphs">UMAP2</text>
<text x="270.25" y="249.4" font-size="11.8" fill="#111" textLength="9.00" lengthAdjust="spacingAndGlyphs" font-weight="bold">D</text>
<text x="289.25" y="268" font-size="8.6" fill="#333" textLength="22.80" lengthAdjust="spacingAndGlyphs">CD19</text>
<text x="283.45" y="278.6" font-size="8.6" fill="#333" textLength="34.90" lengthAdjust="spacingAndGlyphs">CLL cells</text>
<text x="365.95" y="268" font-size="8.6" fill="#333" textLength="18.10" lengthAdjust="spacingAndGlyphs">CD5</text>
<text x="357.35" y="278.6" font-size="8.6" fill="#333" textLength="34.80" lengthAdjust="spacingAndGlyphs">CLL cells</text>
<text x="438.40" y="268" font-size="8.6" fill="#333" textLength="17.95" lengthAdjust="spacingAndGlyphs">CD3</text>
<text x="435.05" y="278.6" font-size="8.6" fill="#333" textLength="24.70" lengthAdjust="spacingAndGlyphs">T cells</text>
<text x="296.45" y="371" font-size="8.6" fill="#333" textLength="17.60" lengthAdjust="spacingAndGlyphs">CD4</text>
<text x="290.65" y="381.6" font-size="8.6" fill="#333" textLength="29.10" lengthAdjust="spacingAndGlyphs">Th cells</text>
<text x="363.55" y="371" font-size="8.6" fill="#333" textLength="23.30" lengthAdjust="spacingAndGlyphs">CD56</text>
<text x="358.85" y="381.6" font-size="8.6" fill="#333" textLength="32.60" lengthAdjust="spacingAndGlyphs">NK cells</text>
<text x="439.05" y="371" font-size="8.6" fill="#333" textLength="27.30" lengthAdjust="spacingAndGlyphs">CD11c</text>
<text x="430.45" y="381.6" font-size="8.6" fill="#333" textLength="44.50" lengthAdjust="spacingAndGlyphs">Innate cells</text>
<g transform="translate(268.60,257.15) scale(0.287)">
<use href="#ring" fill="none" stroke="#3a1a50" stroke-width="7" stroke-linejoin="round" stroke-linecap="round"/>
<use href="#ringblue" fill="none" stroke="#3a1a50" stroke-width="5.6000000000000005" stroke-linecap="round"/>
<use href="#innate" fill="#1e0c3a"/>
<use href="#nkgray" fill="#1e0c3a"/>
<use href="#nk" fill="#1e0c3a"/>
<use href="#cd8" fill="#1e0c3a"/>
<use href="#cd8green" fill="#1e0c3a"/>
<use href="#nktwhite" fill="#3a1a50"/>
<use href="#nkt" fill="#1e0c3a"/>
<use href="#cd4" fill="#1e0c3a"/>
<use href="#cllup" fill="#f0a030"/>
<use href="#clltail" fill="#e89030"/>
<use href="#cllsmall" fill="#f4b040"/>
<use href="#cllbig" fill="#e27a22"/>
<use href="#bcell" fill="#f6b040"/>
</g>
<g transform="translate(342.60,254.35) scale(0.287)">
<use href="#ring" fill="none" stroke="#3a1a50" stroke-width="7" stroke-linejoin="round" stroke-linecap="round"/>
<use href="#ringblue" fill="none" stroke="#3a1a50" stroke-width="5.6000000000000005" stroke-linecap="round"/>
<use href="#innate" fill="#1e0c3a"/>
<use href="#nkgray" fill="#1e0c3a"/>
<use href="#nk" fill="#1e0c3a"/>
<use href="#cd8" fill="#f0a040"/>
<use href="#cd8green" fill="#1e0c3a"/>
<use href="#nktwhite" fill="#c05a30"/>
<use href="#nkt" fill="#e07a30"/>
<use href="#cd4" fill="#f0a840"/>
<use href="#cllup" fill="#e87a20"/>
<use href="#clltail" fill="#d06030"/>
<use href="#cllsmall" fill="#d06030"/>
<use href="#cllbig" fill="#d85a28"/>
<use href="#bcell" fill="#1e0c3a"/>
</g>
<g transform="translate(412.60,256.65) scale(0.287)">
<use href="#ring" fill="none" stroke="#3a1a50" stroke-width="7" stroke-linejoin="round" stroke-linecap="round"/>
<use href="#ringblue" fill="none" stroke="#3a1a50" stroke-width="5.6000000000000005" stroke-linecap="round"/>
<use href="#innate" fill="#2a0c40"/>
<use href="#nkgray" fill="#2a0c40"/>
<use href="#nk" fill="#2a0c40"/>
<use href="#cd8" fill="#f8c030"/>
<use href="#cd8green" fill="#e8b030"/>
<use href="#nktwhite" fill="#f0b030"/>
<use href="#nkt" fill="#f0b030"/>
<use href="#cd4" fill="#f8c040"/>
<use href="#cllup" fill="#2a0c40"/>
<use href="#clltail" fill="#2a0c40"/>
<use href="#cllsmall" fill="#2a0c40"/>
<use href="#cllbig" fill="#2a0c40"/>
<use href="#bcell" fill="#2a0c40"/>
</g>
<g transform="translate(268.20,362.65) scale(0.287)">
<use href="#ring" fill="none" stroke="#3a2060" stroke-width="7" stroke-linejoin="round" stroke-linecap="round"/>
<use href="#ringblue" fill="none" stroke="#3a2060" stroke-width="5.6000000000000005" stroke-linecap="round"/>
<use href="#innate" fill="#e06030"/>
<use href="#nkgray" fill="#5a1a60"/>
<use href="#nk" fill="#6a1e6a"/>
<use href="#cd8" fill="#6a1e6a"/>
<use href="#cd8green" fill="#6a1e6a"/>
<use href="#nktwhite" fill="#5a1a60"/>
<use href="#nkt" fill="#4a1a60"/>
<use href="#cd4" fill="#f6c040"/>
<use href="#cllup" fill="#6a1e6a"/>
<use href="#clltail" fill="#6a1e6a"/>
<use href="#cllsmall" fill="#4a1060"/>
<use href="#cllbig" fill="#6a1e6a"/>
<use href="#bcell" fill="#3a1050"/>
</g>
<g transform="translate(342.70,363.15) scale(0.287)">
<use href="#ring" fill="none" stroke="#3a1060" stroke-width="7" stroke-linejoin="round" stroke-linecap="round"/>
<use href="#ringblue" fill="none" stroke="#3a1060" stroke-width="5.6000000000000005" stroke-linecap="round"/>
<use href="#innate" fill="#3a1060"/>
<use href="#nkgray" fill="#f0a868"/>
<use href="#nk" fill="#f0a868"/>
<use href="#cd8" fill="#3a1060"/>
<use href="#cd8green" fill="#3a1060"/>
<use href="#nktwhite" fill="#3a1060"/>
<use href="#nkt" fill="#3a1060"/>
<use href="#cd4" fill="#3a1060"/>
<use href="#cllup" fill="#3a1060"/>
<use href="#clltail" fill="#3a1060"/>
<use href="#cllsmall" fill="#3a1060"/>
<use href="#cllbig" fill="#3a1060"/>
<use href="#bcell" fill="#3a1060"/>
</g>
<g transform="translate(416.60,363.15) scale(0.287)">
<use href="#ring" fill="none" stroke="#5a2070" stroke-width="7" stroke-linejoin="round" stroke-linecap="round"/>
<use href="#ringblue" fill="none" stroke="#5a2070" stroke-width="5.6000000000000005" stroke-linecap="round"/>
<use href="#innate" fill="#f8b840"/>
<use href="#nkgray" fill="#d05030"/>
<use href="#nk" fill="#d05030"/>
<use href="#cd8" fill="#2a0c40"/>
<use href="#cd8green" fill="#2a0c40"/>
<use href="#nktwhite" fill="#2a0c40"/>
<use href="#nkt" fill="#2a0c40"/>
<use href="#cd4" fill="#2a0c40"/>
<use href="#cllup" fill="#2a0c40"/>
<use href="#clltail" fill="#2a0c40"/>
<use href="#cllsmall" fill="#2a0c40"/>
<use href="#cllbig" fill="#2a0c40"/>
<use href="#bcell" fill="#2a0c40"/>
</g>
<g transform="translate(268.60,257.15) scale(0.287)"><use href="#cllbigleft" fill="#c45a22"/></g>
<g transform="translate(342.60,254.35) scale(0.287)"><use href="#cllbigleft" fill="#b84028"/><use href="#innatelow" fill="#3a1a50"/></g>
<g transform="translate(412.60,256.65) scale(0.287)"><use href="#innatelow" fill="#4a1a5a"/></g>
<g transform="translate(268.20,362.65) scale(0.287)"><use href="#innatelow" fill="#3a1050"/></g>
<g transform="translate(416.60,363.15) scale(0.287)"><use href="#innatelow" fill="#c05040"/></g>
<defs><linearGradient id="inf" x1="0" y1="1" x2="0" y2="0"><stop offset="0" stop-color="#000004"/><stop offset="0.25" stop-color="#420a68"/><stop offset="0.5" stop-color="#932667"/><stop offset="0.75" stop-color="#dd513a"/><stop offset="0.88" stop-color="#fca50a"/><stop offset="1" stop-color="#fcffa4"/></linearGradient></defs>
<rect x="492.5" y="376.9" width="6.5" height="32.7" fill="url(#inf)"/>
<text x="491.55" y="374.3" font-size="5.6" fill="#333" textLength="16.00" lengthAdjust="spacingAndGlyphs">value</text>
<text x="499.65" y="380.6" font-size="5.6" fill="#333" textLength="13.70" lengthAdjust="spacingAndGlyphs">1.00</text>
<text x="499.65" y="388.6" font-size="5.6" fill="#333" textLength="13.70" lengthAdjust="spacingAndGlyphs">0.75</text>
<text x="499.65" y="396.5" font-size="5.6" fill="#333" textLength="13.70" lengthAdjust="spacingAndGlyphs">0.50</text>
<text x="499.65" y="404.5" font-size="5.6" fill="#333" textLength="13.70" lengthAdjust="spacingAndGlyphs">0.25</text>
<text x="499.65" y="412.4" font-size="5.6" fill="#333" textLength="13.70" lengthAdjust="spacingAndGlyphs">0.00</text>
<text x="7.75" y="343.7" font-size="11.8" fill="#111" textLength="7.00" lengthAdjust="spacingAndGlyphs" font-weight="bold">E</text>
<line x1="37.7" y1="366" x2="37.7" y2="468" stroke="#f3f3f3" stroke-width="0.5"/>
<line x1="59" y1="366" x2="59" y2="468" stroke="#f3f3f3" stroke-width="0.5"/>
<line x1="80.4" y1="366" x2="80.4" y2="468" stroke="#f3f3f3" stroke-width="0.5"/>
<line x1="101.7" y1="366" x2="101.7" y2="468" stroke="#f3f3f3" stroke-width="0.5"/>
<line x1="123.5" y1="366" x2="123.5" y2="468" stroke="#f3f3f3" stroke-width="0.5"/>
<line x1="20" y1="375.8" x2="138.5" y2="375.8" stroke="#f3f3f3" stroke-width="0.5"/>
<line x1="20" y1="390.4" x2="138.5" y2="390.4" stroke="#f3f3f3" stroke-width="0.5"/>
<line x1="20" y1="411" x2="138.5" y2="411" stroke="#f3f3f3" stroke-width="0.5"/>
<line x1="20" y1="431.5" x2="138.5" y2="431.5" stroke="#f3f3f3" stroke-width="0.5"/>
<line x1="20" y1="452" x2="138.5" y2="452" stroke="#f3f3f3" stroke-width="0.5"/>
<line x1="157.2" y1="366" x2="157.2" y2="468" stroke="#f3f3f3" stroke-width="0.5"/>
<line x1="178.5" y1="366" x2="178.5" y2="468" stroke="#f3f3f3" stroke-width="0.5"/>
<line x1="199.9" y1="366" x2="199.9" y2="468" stroke="#f3f3f3" stroke-width="0.5"/>
<line x1="221.2" y1="366" x2="221.2" y2="468" stroke="#f3f3f3" stroke-width="0.5"/>
<line x1="243.0" y1="366" x2="243.0" y2="468" stroke="#f3f3f3" stroke-width="0.5"/>
<line x1="139.5" y1="375.8" x2="258.0" y2="375.8" stroke="#f3f3f3" stroke-width="0.5"/>
<line x1="139.5" y1="390.4" x2="258.0" y2="390.4" stroke="#f3f3f3" stroke-width="0.5"/>
<line x1="139.5" y1="411" x2="258.0" y2="411" stroke="#f3f3f3" stroke-width="0.5"/>
<line x1="139.5" y1="431.5" x2="258.0" y2="431.5" stroke="#f3f3f3" stroke-width="0.5"/>
<line x1="139.5" y1="452" x2="258.0" y2="452" stroke="#f3f3f3" stroke-width="0.5"/>
<rect x="19.2" y="344.2" width="237" height="124.4" fill="none" stroke="#333" stroke-width="1"/>
<line x1="139.2" y1="344.2" x2="139.2" y2="468.6" stroke="#333" stroke-width="1"/>
<text x="66.95" y="358.8" font-size="8.6" fill="#333" textLength="24.00" lengthAdjust="spacingAndGlyphs">CLL27</text>
<text x="169.15" y="358.8" font-size="8.6" fill="#333" textLength="57.20" lengthAdjust="spacingAndGlyphs">Healthy donor</text>
<g transform="translate(25.8,332.4) scale(0.43)">
<use href="#ring" fill="none" stroke="#c8c8c8" stroke-width="2.4" stroke-linejoin="round" stroke-linecap="round"/>
<use href="#ringblue" fill="none" stroke="#a8c4e0" stroke-width="1.92" stroke-linecap="round"/>
<use href="#innate" fill="#808080"/>
<use href="#nkgray" fill="#666"/>
<use href="#nk" fill="#f0b060"/>
<use href="#cd8" fill="#b888b0"/>
<use href="#cd8dark" fill="#9a6090"/>
<use href="#cd8green" fill="#2e6a34"/>
<use href="#nktwhite" fill="#eeeeee"/>
<use href="#nkt" fill="#e8b070"/>
<use href="#cd4" fill="#86c452"/>
<use href="#cd4dark" fill="#2e6e2e"/>
<use href="#cd4pale" fill="#d8e8c6"/>
<use href="#cllup" fill="#62b2e2"/>
<use href="#clltail" fill="#2a78b0"/>
<use href="#cllsmall" fill="#3888c8"/>
<use href="#cllbig" fill="#a8d8f4"/>
<use href="#bcell" fill="#b02020"/>
</g>
<g transform="translate(145.3,333.9) scale(0.43)">
<use href="#ring" fill="none" stroke="#c8c8c8" stroke-width="2.4" stroke-linejoin="round" stroke-linecap="round"/>
<use href="#ringblue" fill="none" stroke="#a8c4e0" stroke-width="1.92" stroke-linecap="round"/>
<use href="#innate" fill="#808080"/>
<use href="#nkgray" fill="#666"/>
<use href="#nk" fill="#f0b060"/>
<use href="#cd8" fill="#a06898"/>
<use href="#cd8dark" fill="#8a5080"/>
<use href="#cd8green" fill="#2e6a34"/>
<use href="#nktwhite" fill="#eeeeee"/>
<use href="#nkt" fill="#e8b070"/>
<use href="#cd4" fill="#86c452"/>
<use href="#cd4dark" fill="#2e6e2e"/>
<use href="#cd4pale" fill="#d8e8c6"/>
<use href="#clltail" fill="#3a88c0"/>
<use href="#cllsmall" fill="#4a98d0"/>
<use href="#bcell" fill="#b02020"/>
</g>
<g transform="translate(145.3,333.9) scale(0.43)">
<use href="#cllbig" fill="#f0f7fc" stroke="#c4dff0" stroke-width="1.2" stroke-dasharray="2,2"/>
<use href="#cllup" fill="#f0f7fc" stroke="#b8d8ee" stroke-width="1.2" stroke-dasharray="2,2"/>
<circle cx="54.2" cy="275.0" r="0.9" fill="#7ab4dc"/><circle cx="82.7" cy="266.4" r="0.9" fill="#7ab4dc"/><circle cx="93.2" cy="267.8" r="0.9" fill="#7ab4dc"/><circle cx="74.8" cy="256.5" r="0.9" fill="#7ab4dc"/><circle cx="79.7" cy="249.7" r="0.9" fill="#7ab4dc"/><circle cx="92.3" cy="256.4" r="0.9" fill="#7ab4dc"/><circle cx="97.2" cy="272.0" r="0.9" fill="#7ab4dc"/><circle cx="74.4" cy="251.6" r="0.9" fill="#7ab4dc"/><circle cx="71.7" cy="269.4" r="0.9" fill="#7ab4dc"/><circle cx="65.0" cy="266.6" r="0.9" fill="#7ab4dc"/><circle cx="91.5" cy="255.4" r="0.9" fill="#7ab4dc"/><circle cx="89.9" cy="277.9" r="0.9" fill="#7ab4dc"/><circle cx="79.4" cy="276.6" r="0.9" fill="#7ab4dc"/><circle cx="100.1" cy="283.0" r="0.9" fill="#7ab4dc"/><circle cx="69.0" cy="261.8" r="0.9" fill="#7ab4dc"/><circle cx="71.6" cy="262.6" r="0.9" fill="#7ab4dc"/><circle cx="74.3" cy="266.9" r="0.9" fill="#7ab4dc"/><circle cx="77.6" cy="277.4" r="0.9" fill="#7ab4dc"/><circle cx="57.7" cy="271.7" r="0.9" fill="#7ab4dc"/><circle cx="77.9" cy="272.2" r="0.9" fill="#7ab4dc"/><circle cx="65.2" cy="271.2" r="0.9" fill="#7ab4dc"/><circle cx="62.8" cy="251.1" r="0.9" fill="#7ab4dc"/><circle cx="91.3" cy="262.2" r="0.9" fill="#7ab4dc"/><circle cx="85.6" cy="274.4" r="0.9" fill="#7ab4dc"/><circle cx="102.5" cy="270.9" r="0.9" fill="#7ab4dc"/><circle cx="97.7" cy="266.9" r="0.9" fill="#7ab4dc"/><circle cx="67.0" cy="257.0" r="0.9" fill="#7ab4dc"/><circle cx="91.1" cy="266.6" r="0.9" fill="#7ab4dc"/><circle cx="59.8" cy="258.7" r="0.9" fill="#7ab4dc"/><circle cx="69.6" cy="253.8" r="0.9" fill="#7ab4dc"/><circle cx="89.4" cy="266.4" r="0.9" fill="#7ab4dc"/><circle cx="76.1" cy="276.6" r="0.9" fill="#7ab4dc"/><circle cx="95.0" cy="279.3" r="0.9" fill="#7ab4dc"/><circle cx="97.6" cy="271.4" r="0.9" fill="#7ab4dc"/><circle cx="70.0" cy="270.6" r="0.9" fill="#7ab4dc"/><circle cx="95.7" cy="259.4" r="0.9" fill="#7ab4dc"/><circle cx="76.6" cy="258.1" r="0.9" fill="#7ab4dc"/><circle cx="85.7" cy="285.7" r="0.9" fill="#7ab4dc"/><circle cx="83.2" cy="281.6" r="0.9" fill="#7ab4dc"/><circle cx="79.6" cy="257.4" r="0.9" fill="#7ab4dc"/>
<circle cx="98.6" cy="197.9" r="0.9" fill="#5a9cd0"/><circle cx="89.2" cy="203.9" r="0.9" fill="#5a9cd0"/><circle cx="96.5" cy="200.6" r="0.9" fill="#5a9cd0"/><circle cx="98.7" cy="203.1" r="0.9" fill="#5a9cd0"/><circle cx="91.0" cy="195.2" r="0.9" fill="#5a9cd0"/><circle cx="96.3" cy="211.1" r="0.9" fill="#5a9cd0"/><circle cx="95.3" cy="210.9" r="0.9" fill="#5a9cd0"/><circle cx="98.7" cy="210.4" r="0.9" fill="#5a9cd0"/><circle cx="90.7" cy="211.7" r="0.9" fill="#5a9cd0"/><circle cx="77.2" cy="221.8" r="0.9" fill="#5a9cd0"/><circle cx="78.8" cy="216.7" r="0.9" fill="#5a9cd0"/><circle cx="98.5" cy="212.8" r="0.9" fill="#5a9cd0"/><circle cx="73.6" cy="218.0" r="0.9" fill="#5a9cd0"/><circle cx="89.7" cy="199.2" r="0.9" fill="#5a9cd0"/><circle cx="70.7" cy="209.4" r="0.9" fill="#5a9cd0"/><circle cx="84.8" cy="208.9" r="0.9" fill="#5a9cd0"/><circle cx="81.8" cy="213.1" r="0.9" fill="#5a9cd0"/><circle cx="97.4" cy="202.8" r="0.9" fill="#5a9cd0"/>
<use href="#clltail" fill="#3a88c0"/>
</g>
<use href="#dash" transform="translate(20,309.7) scale(0.506,0.527)" fill="none" stroke="#222" stroke-width="2.05" stroke-dasharray="2.6,3"/>
<use href="#dash" transform="translate(137.8,314.2) scale(0.4985,0.509)" fill="none" stroke="#222" stroke-width="2.05" stroke-dasharray="2.6,3"/>
<rect x="0.5" y="0.5" width="519" height="475" fill="none" stroke="#3a3a3a" stroke-width="1.2"/>
</svg></body></html>
